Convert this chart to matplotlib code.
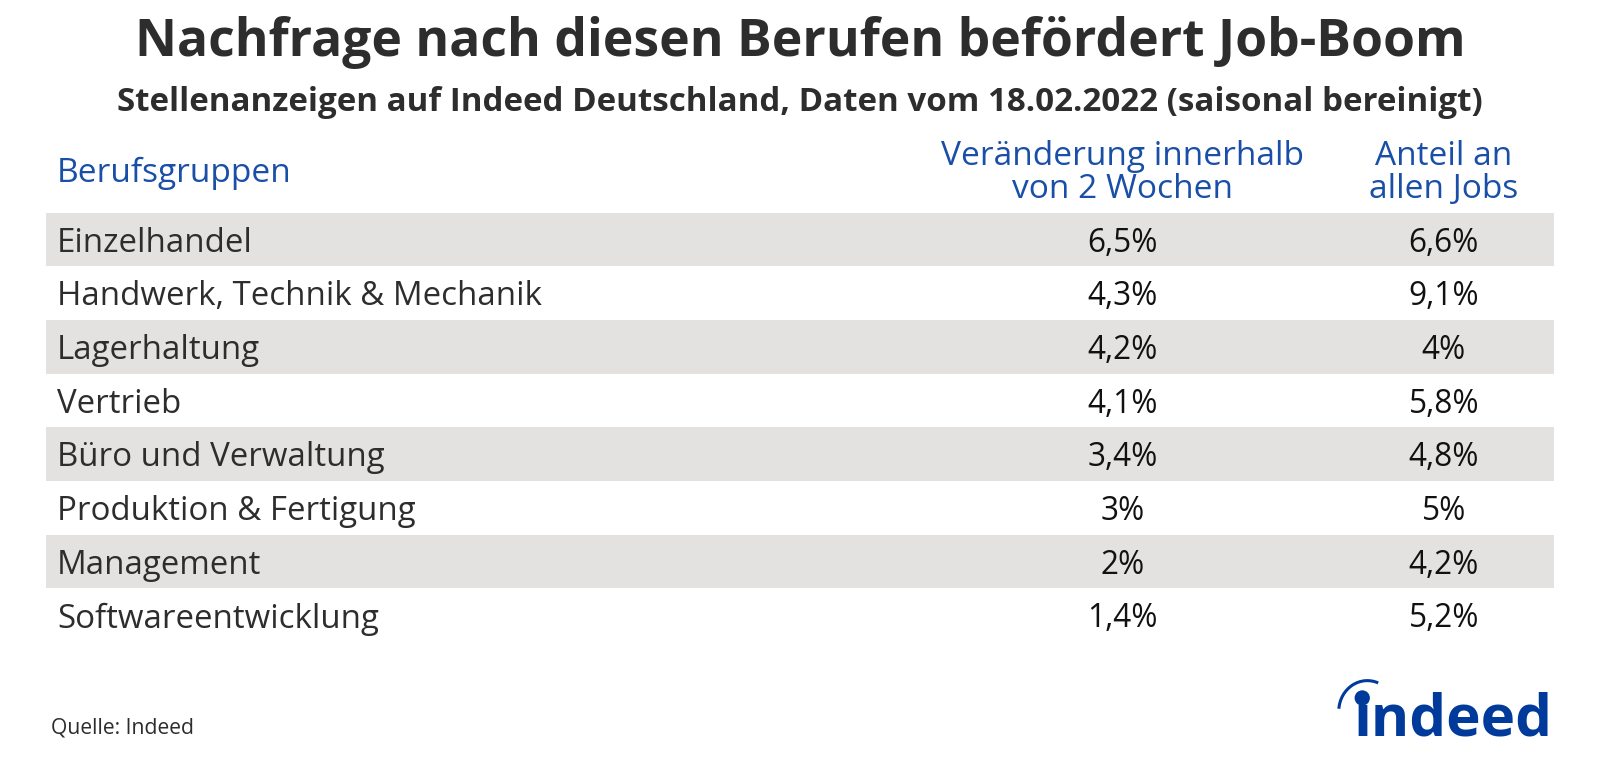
import matplotlib
matplotlib.use("Agg")
import matplotlib.pyplot as plt
from matplotlib.patches import Rectangle, Arc, Circle

plt.rcParams['font.family'] = ['Open Sans', 'Noto Sans', 'DejaVu Sans']

title = "Nachfrage nach diesen Berufen befördert Job-Boom"
subtitle = "Stellenanzeigen auf Indeed Deutschland, Daten vom 18.02.2022 (saisonal bereinigt)"
col_headers = ["Berufsgruppen", "Veränderung innerhalb\nvon 2 Wochen", "Anteil an\nallen Jobs"]
groups = ["Einzelhandel", "Handwerk, Technik & Mechanik", "Lagerhaltung", "Vertrieb",
          "Büro und Verwaltung", "Produktion & Fertigung", "Management", "Softwareentwicklung"]
change = ["6,5%", "4,3%", "4,2%", "4,1%", "3,4%", "3%", "2%", "1,4%"]
share = ["6,6%", "9,1%", "4%", "5,8%", "4,8%", "5%", "4,2%", "5,2%"]
source = "Quelle: Indeed"

DARK = "#2d2d2d"
BLUE = "#1a4fa8"
GREY = "#e4e2e0"
LOGO = "#003a9b"

fig = plt.figure(figsize=(16, 7.69), dpi=100)
ax = fig.add_axes([0, 0, 1, 1])
ax.set_xlim(0, 1568)
ax.set_ylim(753.6, 0)
ax.axis("off")

ax.text(784, 42, title, ha="center", va="center", fontsize=37.2, fontweight="bold", color=DARK)
ax.text(784, 100, subtitle, ha="center", va="center", fontsize=23.9, fontweight="bold", color=DARK)
ax.text(56, 170, col_headers[0], ha="left", va="center", fontsize=24.1, color=BLUE)
ax.text(1100, 170, col_headers[1], ha="center", va="center", fontsize=24.1, color=BLUE, linespacing=1.0)
ax.text(1415, 170, col_headers[2], ha="center", va="center", fontsize=24.1, color=BLUE, linespacing=1.0)

top = 208.5
step = 52.6
for i, (g, c, s) in enumerate(zip(groups, change, share)):
    if i % 2 == 0:
        ax.add_patch(Rectangle((45, top + i * step), 1478, step, color=GREY, lw=0))
    y = top + (i + 0.5) * step
    ax.text(56, y + 3.5, g, ha="left", va="center", fontsize=23.8, color=DARK)
    ax.text(1100, y + 3.5, c, ha="center", va="center", fontsize=22.8, color="#111111")
    ax.text(1415, y + 3.5, s, ha="center", va="center", fontsize=22.8, color="#111111")

ax.text(50, 713, source, ha="left", va="center", fontsize=15.2, color=DARK)

# logo
ax.text(1424.5, 706, "indeed", ha="center", va="center", fontsize=42, fontweight="bold", color=LOGO)
ax.add_patch(Circle((1335, 684), 7.5, color=LOGO, lw=0))
ax.add_patch(Arc((1340, 697), 56, 60, theta1=185, theta2=291, color=LOGO, lw=2.2))

fig.savefig("out.png", dpi=100)
